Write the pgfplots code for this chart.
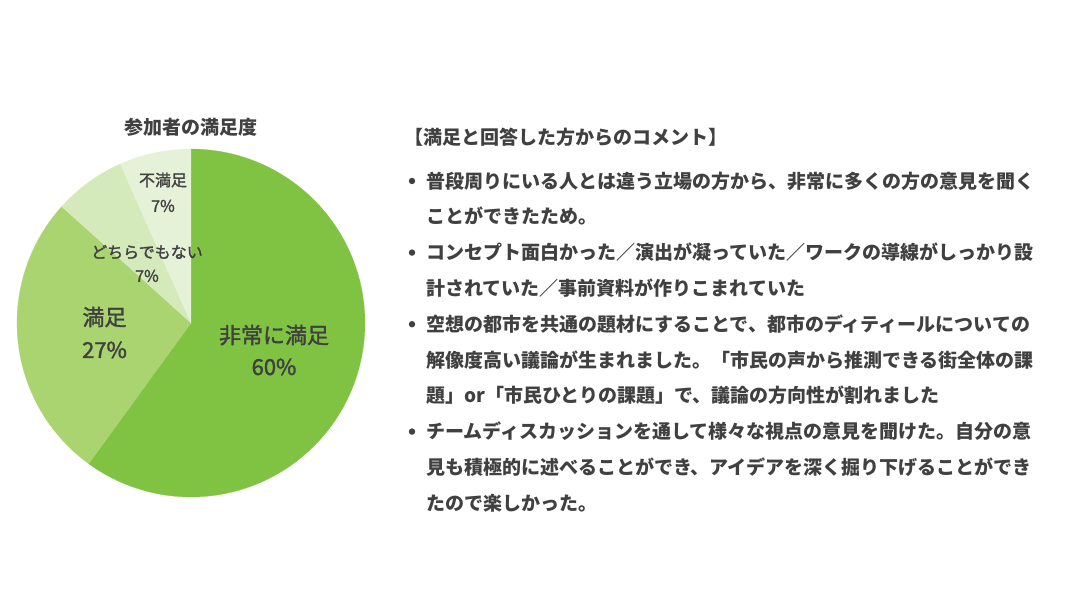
\documentclass[border=0pt]{standalone}
\usepackage{pgfplots}
\pgfplotsset{compat=1.18}
\usepgfplotslibrary{polar}
\usepackage{fontspec}
\setmainfont{Noto Sans CJK JP}
\newfontfamily\jpmed[FakeBold=1.6]{Noto Sans CJK JP}
\definecolor{cA}{HTML}{80C342}
\definecolor{cB}{HTML}{A9D470}
\definecolor{cC}{HTML}{D5EABA}
\definecolor{cD}{HTML}{E6F2D7}
\definecolor{txt}{HTML}{404040}
% responses (n = 30): 非常に満足 18, 満足 8, どちらでもない 2, 不満足 2
% slices run clockwise from 12 o'clock; angles = count/30*360
\begin{document}
\begin{tikzpicture}[x=1pt,y=1pt]
\fill[white] (0,0) rectangle (1069,601);
\begin{polaraxis}[at={(191pt,278pt)}, anchor=center, hide axis, scale only axis,
  width=348pt, height=348pt, ymin=0, ymax=1, clip=false]
% 非常に満足 18/30 -> 216 deg : 90 .. -126
\addplot[fill=cA, draw=cA, line width=0.2pt, domain=-126:90, samples=150] {1} -- (axis cs:0,0) -- cycle;
% 満足 8/30 -> 96 deg : -126 .. -222
\addplot[fill=cB, draw=cB, line width=0.2pt, domain=-222:-126, samples=80] {1} -- (axis cs:0,0) -- cycle;
% どちらでもない 2/30 -> 24 deg : 138 .. 114
\addplot[fill=cC, draw=cC, line width=0.2pt, domain=114:138, samples=30] {1} -- (axis cs:0,0) -- cycle;
% 不満足 2/30 -> 24 deg : 114 .. 90
\addplot[fill=cD, draw=cD, line width=0.2pt, domain=90:114, samples=30] {1} -- (axis cs:0,0) -- cycle;
\end{polaraxis}
% title
\node[anchor=base, inner sep=0, text=txt, font=\fontsize{19}{23}\selectfont\bfseries] at (191,466) {参加者の満足度};
% pie labels
\begin{scope}[every node/.style={anchor=base, inner sep=0, text=txt}]
\node[font=\jpmed\fontsize{22}{26}\selectfont] at (274,257.6) {非常に満足};
\node[font=\jpmed\fontsize{22}{26}\selectfont] at (274,226) {60\%};
\node[font=\jpmed\fontsize{22}{26}\selectfont] at (104.5,275.6) {満足};
\node[font=\jpmed\fontsize{22}{26}\selectfont] at (104.5,243) {27\%};
\node[font=\jpmed\fontsize{16}{19}\selectfont] at (163,414.9) {不満足};
\node[font=\jpmed\fontsize{16}{19}\selectfont] at (163,389.2) {7\%};
\node[font=\jpmed\fontsize{16}{19}\selectfont] at (147,342.9) {どちらでもない};
\node[font=\jpmed\fontsize{16}{19}\selectfont] at (147,319.2) {7\%};
\end{scope}
% comments
\begin{scope}[every node/.style={anchor=base west, inner sep=0, text=txt, font=\fontsize{19}{23}\selectfont\bfseries}]
\node at (404,456) {【満足と回答した方からのコメント】};
\node at (426,412.8) {普段周りにいる人とは違う立場の方から、非常に多くの方の意見を聞く};
\node at (426,377) {ことができたため。};
\node at (426,341.2) {コンセプト面白かった／演出が凝っていた／ワークの導線がしっかり設};
\node at (426,305.4) {計されていた／事前資料が作りこまれていた};
\node at (426,269.6) {空想の都市を共通の題材にすることで、都市のディティールについての};
\node at (426,233.8) {解像度高い議論が生まれました。「市民の声から推測できる街全体の課};
\node at (426,198) {題」or「市民ひとりの課題」で、議論の方向性が割れました};
\node at (426,162.2) {チームディスカッションを通して様々な視点の意見を聞けた。自分の意};
\node at (426,126.4) {見も積極的に述べることができ、アイデアを深く掘り下げることができ};
\node at (426,90.6) {たので楽しかった。};
\end{scope}
\foreach \yy in {420,348.4,276.8,169.4} \fill[txt] (412,\yy) circle (3.2);
\end{tikzpicture}
\end{document}
